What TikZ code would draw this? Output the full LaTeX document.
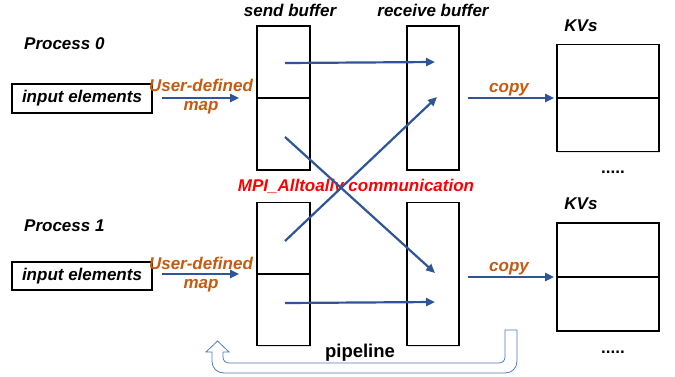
\documentclass[tikz,border=0pt]{standalone}
\usepackage{fontspec}
\setmainfont{Liberation Sans}
\usetikzlibrary{arrows.meta,shadows,calc}
\definecolor{flow}{RGB}{47,85,151}
\definecolor{maplabel}{RGB}{197,90,17}
\definecolor{pipeblue}{RGB}{84,122,186}
\begin{document}
\begin{tikzpicture}[x=1pt,y=-1pt,
  lbl/.style={font=\fontsize{17}{19}\selectfont\bfseries\itshape, inner sep=0pt},
  orange lbl/.style={lbl, text=maplabel, align=center},
  buf/.style={draw, line width=1.6pt, fill=white, inner sep=0pt,
    drop shadow={shadow xshift=1.2pt, shadow yshift=-1.2pt, opacity=0.2}},
  divider/.style={line width=1.6pt},
  flowarrow/.style={draw=flow, line width=2.2pt, -{Triangle[length=9pt,width=8pt]}},
  pipe/.style={draw=pipeblue, line width=0.8pt, fill=white}]
\useasboundingbox (0,0) rectangle (675,376);

% column headings
\node[lbl, anchor=base] (hsend) at (290,16) {send buffer};
\node[lbl, anchor=base] (hrecv) at (433,16) {receive buffer};
\node[lbl, anchor=base] (kvh0) at (581,31) {KVs};
\node[lbl, anchor=base] (kvh1) at (581,209) {KVs};
\node[lbl, anchor=base west] (p0) at (24,49) {Process 0};
\node[lbl, anchor=base west] (p1) at (24,231) {Process 1};

% buffers of process 0
\node[buf, minimum width=53, minimum height=144] (sb0) at (283.5,98) {};
\node[buf, minimum width=52, minimum height=144] (rb0) at (433,98) {};
\node[buf, minimum width=102, minimum height=107] (kv0) at (608,98) {};
\draw[divider] (sb0.west) -- (sb0.east);
\draw[divider] (kv0.west) -- (kv0.east);

% buffers of process 1
\node[buf, minimum width=53, minimum height=143] (sb1) at (283.5,274) {};
\node[buf, minimum width=52, minimum height=143] (rb1) at (433,274) {};
\node[buf, minimum width=102, minimum height=108] (kv1) at (608,277) {};
\draw[divider] (sb1.west) -- (sb1.east);
\draw[divider] (kv1.west) -- (kv1.east);

% input elements
\node[buf, lbl, minimum width=140, minimum height=29] (in0) at (82,98.5) {input elements};
\node[buf, lbl, minimum width=140, minimum height=28] (in1) at (82,276) {input elements};

% map step
\node[orange lbl] (map0) at (201,97) {User-defined\\map};
\node[orange lbl] (map1) at (201,274.5) {User-defined\\map};
\draw[flowarrow] ($(in0.east |- sb0.west)+(9,0)$) -- ($(sb0.west)+(-17,0)$);
\draw[flowarrow] ($(in1.east |- sb1.west)+(9,0)$) -- ($(sb1.west)+(-17,0)$);

% copy step
\node[lbl, text=maplabel, anchor=base] (cp0) at (509,92) {copy};
\node[lbl, text=maplabel, anchor=base] (cp1) at (509,271.5) {copy};
\draw[flowarrow] ($(rb0.east |- kv0.west)+(8,0)$) -- ($(kv0.west)+(-2,0)$);
\draw[flowarrow] ($(rb1.east |- kv1.west)+(8,0)$) -- ($(kv1.west)+(-2,0)$);

% all-to-all exchange (label sits beneath the crossing arrows)
\node[lbl, text=red, anchor=base] (mpi) at (356,191) {MPI\_Alltoallv communication};
\coordinate (s0a) at (285,63);
\coordinate (s0b) at (285,137);
\coordinate (s1a) at (285,241);
\coordinate (s1b) at (285,303);
\coordinate (r0a) at (435,62);
\coordinate (r0b) at (437,97);
\coordinate (r1a) at (435,302);
\coordinate (r1b) at (435,273);
\draw[flowarrow] (s0a) -- (r0a);
\draw[flowarrow] (s0b) -- (r1b);
\draw[flowarrow] (s1a) -- (r0b);
\draw[flowarrow] (s1b) -- (r1a);

% more KV blocks
\node[lbl, font=\fontsize{17}{19}\selectfont\bfseries, anchor=base] (dots0) at (613,173) {.....};
\node[lbl, font=\fontsize{17}{19}\selectfont\bfseries, anchor=base] (dots1) at (613,353) {.....};

% pipeline return arrow
\draw[pipe] (505,330) -- (517,330) -- (517,361)
  .. controls (517,368) and (512,373) .. (505,373) -- (224,373)
  .. controls (217,373) and (212,368) .. (212,361) -- (212,352)
  -- (206,352) -- (217.5,341) -- (229,352) -- (223,352) -- (223,357)
  .. controls (223,360.5) and (225.5,363) .. (229,363) -- (499,363)
  .. controls (502.5,363) and (505,360.5) .. (505,357) -- cycle;
\node[font=\fontsize{18.5}{20}\selectfont\bfseries, inner sep=0pt, anchor=base] (pl) at (360,357) {pipeline};
\end{tikzpicture}
\end{document}
